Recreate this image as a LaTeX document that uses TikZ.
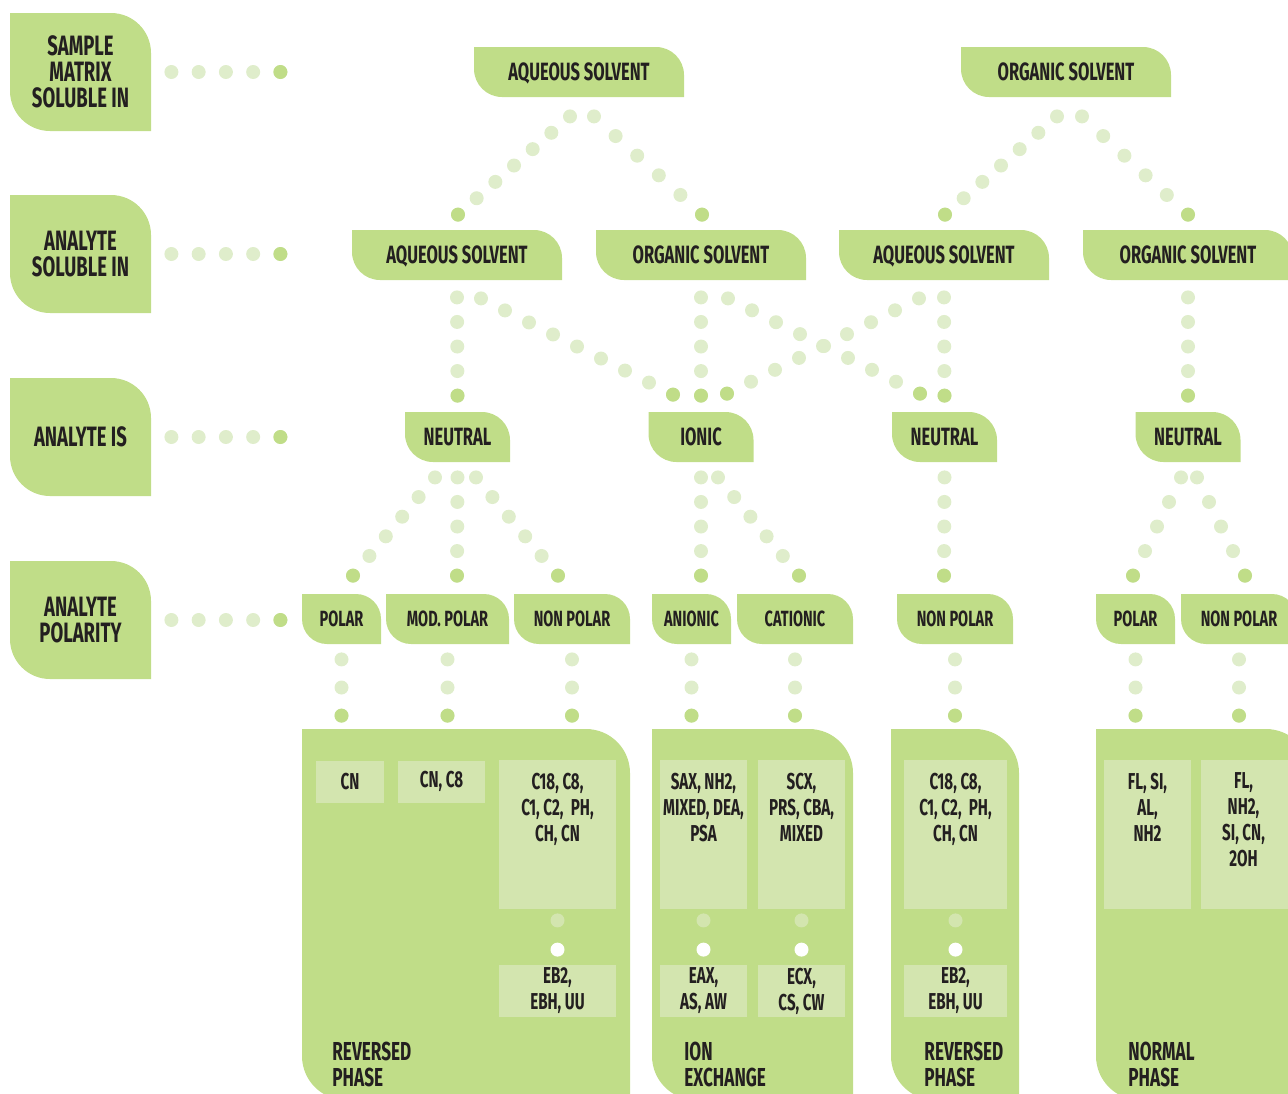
\documentclass[tikz,border=0pt]{standalone}
\usepackage{fontspec}
\setmainfont{Fira Sans}[FakeStretch=0.66]
\usetikzlibrary{calc}

\definecolor{leafgreen}{HTML}{C0DD88}
\definecolor{palegreen}{HTML}{DFEDCB}
\definecolor{boxgreen}{HTML}{D3E5AF}
\definecolor{ink}{HTML}{231F20}

% row of dots between two points, the last one full green
\newcommand\dotchain[3]{%
  \coordinate (dc-a) at #1;
  \coordinate (dc-b) at #2;
  \foreach \k in {0,...,#3}
    \fill[palegreen] ($(dc-a)!\k/#3!(dc-b)$) circle[radius=3.5pt];
  \fill[leafgreen] (dc-b) circle[radius=3.5pt];}

\tikzset{
  leaf/.style={inner sep=0pt, align=center, text=ink,
    path picture={\fill[leafgreen] (path picture bounding box.north west)
      -- ([xshift=-#1]path picture bounding box.north east)
      arc[start angle=90,end angle=0,radius=#1]
      -- (path picture bounding box.south east)
      -- ([xshift=#1]path picture bounding box.south west)
      arc[start angle=270,end angle=180,radius=#1] -- cycle;}},
  side/.style={leaf=20pt, minimum width=70.5pt, minimum height=59pt,
    font=\bfseries\fontsize{14}{13}\selectfont},
  solvent/.style={leaf=14pt, minimum width=105pt, minimum height=25pt,
    text depth=0pt, font=\bfseries\fontsize{12.5}{13}\selectfont},
  kind/.style={leaf=14pt, minimum width=52.5pt, minimum height=25pt,
    font=\bfseries\fontsize{12.5}{13}\selectfont},
  polarity/.style={leaf=12.5pt, minimum height=25pt,
    font=\bfseries\fontsize{11}{12}\selectfont},
  panel/.style={leaf=22pt, minimum height=185.5pt},
  cell/.style={fill=boxgreen, inner sep=0pt, text=ink, align=center,
    font=\bfseries\fontsize{11.5}{13}\selectfont},
  celltext/.style={inner sep=0pt, text=ink, align=center, anchor=north,
    font=\bfseries\fontsize{11.5}{13}\selectfont},
  phase/.style={inner sep=0pt, text=ink, align=left, anchor=north west,
    font=\bfseries\fontsize{13}{13}\selectfont},
}

\begin{document}
\begin{tikzpicture}[x=0.5pt,y=0.5pt]
\useasboundingbox (0,0) rectangle (1288,-1093);
\clip (0,0) rectangle (1288,-1093);

% questions on the left
\node[side] (sample) at (80.5,-72) {SAMPLE\\MATRIX\\SOLUBLE IN};
\node[side] (solub) at (80.5,-254) {ANALYTE\\SOLUBLE IN};
\node[side] (state) at (80.5,-437) {ANALYTE IS};
\node[side] (polar) at (80.5,-620) {ANALYTE\\POLARITY};
\foreach \s in {sample,solub,state,polar}{
  \dotchain{([xshift=10pt]\s.east)}{([xshift=64.5pt]\s.east)}{4}
}

% solvents
\node[solvent] (aq0) at (579,-72) {AQUEOUS SOLVENT};
\node[solvent] (org0) at (1066,-72) {ORGANIC SOLVENT};
\node[solvent] (aq1) at (457,-255) {AQUEOUS SOLVENT};
\node[solvent] (org1) at (701,-255) {ORGANIC SOLVENT};
\node[solvent] (aq2) at (944,-255) {AQUEOUS SOLVENT};
\node[solvent] (org2) at (1188,-255) {ORGANIC SOLVENT};

% analyte type
\node[kind] (neu1) at (457.5,-437) {NEUTRAL};
\node[kind] (ion) at (701,-437) {IONIC};
\node[kind] (neu2) at (944.5,-437) {NEUTRAL};
\node[kind] (neu3) at (1188,-437) {NEUTRAL};

% polarity
\node[polarity, minimum width=39.5pt] (pol1) at (341.5,-619) {POLAR};
\node[polarity, minimum width=61.5pt] (mod) at (447.5,-619) {MOD. POLAR};
\node[polarity, minimum width=58pt] (np1) at (572,-619) {NON POLAR};
\node[polarity, minimum width=39.5pt] (ani) at (691.5,-619) {ANIONIC};
\node[polarity, minimum width=58pt] (cat) at (795,-619) {CATIONIC};
\node[polarity, minimum width=58pt] (np2) at (955,-619) {NON POLAR};
\node[polarity, minimum width=39.5pt] (pol2) at (1135.5,-619) {POLAR};
\node[polarity, minimum width=58pt] (np3) at (1239,-619) {NON POLAR};

% sorbent panels
\node[panel, minimum width=164pt] (rp1) at (466,-914.5) {};
\node[panel, minimum width=100.5pt] (ionx) at (752.5,-914.5) {};
\node[panel, minimum width=64pt] (rp2) at (955,-914.5) {};
\node[panel, minimum width=107pt] (norm) at (1203,-914.5) {};

\node[cell, minimum width=34pt, minimum height=21pt] (cn) at (350,-781.5) {CN};
\node[cell, minimum width=43.5pt, minimum height=21pt] (cnc8) at (441.5,-781.5) {CN, C8};
\node[cell, minimum width=58.5pt, minimum height=74.5pt] (c18a) at (557.5,-834.5) {};
\node[cell, minimum width=58.5pt, minimum height=26pt] (eb2a) at (557.5,-991) {EB2,\\EBH, UU};
\node[cell, minimum width=43.5pt, minimum height=74.5pt] (sax) at (703.5,-834.5) {};
\node[cell, minimum width=43.5pt, minimum height=74.5pt] (scx) at (801.5,-834.5) {};
\node[cell, minimum width=43.5pt, minimum height=26pt] (eax) at (703.5,-991) {EAX,\\AS, AW};
\node[cell, minimum width=43.5pt, minimum height=26pt] (ecx) at (801.5,-991) {ECX,\\CS, CW};
\node[cell, minimum width=51.5pt, minimum height=74.5pt] (c18b) at (955.5,-834.5) {};
\node[cell, minimum width=51.5pt, minimum height=26pt] (eb2b) at (955.5,-991) {EB2,\\EBH, UU};
\node[cell, minimum width=43.5pt, minimum height=74.5pt] (fls) at (1147.5,-834.5) {};
\node[cell, minimum width=44.5pt, minimum height=74.5pt] (fln) at (1245.5,-834.5) {};

\node[celltext] (c18at) at ([yshift=-6.5pt]c18a.north) {C18, C8,\\C1, C2, \ PH,\\CH, CN};
\node[celltext] (saxt) at ([yshift=-6.5pt]sax.north) {SAX, NH2,\\MIXED, DEA,\\PSA};
\node[celltext] (scxt) at ([yshift=-6.5pt]scx.north) {SCX,\\PRS, CBA,\\MIXED};
\node[celltext] (c18bt) at ([yshift=-6.5pt]c18b.north) {C18, C8,\\C1, C2, \ PH,\\CH, CN};
\node[celltext] (flst) at ([yshift=-6.5pt]fls.north) {FL, SI,\\AL,\\NH2};
\node[celltext] (flnt) at ([xshift=-1pt,yshift=-6.5pt]fln.north) {FL,\\NH2,\\SI, CN,\\2OH};

% the two dots between a cell and its end-capped version
\foreach \a/\b in {c18a/eb2a, sax/eax, scx/ecx, c18b/eb2b} {
  \fill[boxgreen] ([yshift=-5.5pt]\a.south) circle[radius=3.5pt];
  \fill[white] ([yshift=7.5pt]\b.north) circle[radius=3.5pt];
}

\node[phase] (rp1t) at (332,-1042) {REVERSED\\PHASE};
\node[phase] (ionxt) at (684,-1042) {ION\\EXCHANGE};
\node[phase] (rp2t) at (924,-1042) {REVERSED\\PHASE};
\node[phase] (normt) at (1128,-1042) {NORMAL\\PHASE};

% matrix -> analyte solubility
\dotchain{([xshift=-4.5pt,yshift=-9.5pt]aq0.south)}{([xshift=0.5pt,yshift=7.5pt]aq1.north)}{6}
\dotchain{([xshift=7.5pt,yshift=-9.5pt]aq0.south)}{([xshift=0.5pt,yshift=7.5pt]org1.north)}{5}
\dotchain{([xshift=-4.5pt,yshift=-9.5pt]org0.south)}{([xshift=0.5pt,yshift=7.5pt]aq2.north)}{6}
\dotchain{([xshift=8pt,yshift=-9.5pt]org0.south)}{([yshift=7.5pt]org2.north)}{5}

% solubility -> neutral / ionic
\dotchain{([yshift=-8.5pt]aq1.south)}{([yshift=8pt]neu1.north)}{4}
\dotchain{([xshift=12pt,yshift=-9pt]aq1.south)}{([xshift=-14pt,yshift=8.5pt]ion.north)}{8}
\dotchain{([yshift=-8.5pt]org1.south)}{([yshift=8pt]ion.north)}{4}
\dotchain{([xshift=13.5pt,yshift=-9pt]org1.south)}{([xshift=-12.25pt,yshift=9pt]neu2.north)}{8}
\dotchain{([yshift=-8.5pt]aq2.south)}{([yshift=8pt]neu2.north)}{4}
\dotchain{([xshift=-12.5pt,yshift=-9pt]aq2.south)}{([xshift=13pt,yshift=9pt]ion.north)}{8}
\dotchain{([yshift=-8.5pt]org2.south)}{([yshift=8pt]neu3.north)}{4}

% type -> polarity
\dotchain{([xshift=-11.25pt,yshift=-7.5pt]neu1.south)}{([xshift=5.75pt,yshift=9pt]pol1.north)}{5}
\dotchain{([yshift=-7.5pt]neu1.south)}{([xshift=4.75pt,yshift=9pt]mod.north)}{4}
\dotchain{([xshift=9.25pt,yshift=-7.5pt]neu1.south)}{([xshift=-7pt,yshift=9pt]np1.north)}{5}
\dotchain{([yshift=-7.5pt]ion.south)}{([xshift=4.75pt,yshift=9pt]ani.north)}{4}
\dotchain{([xshift=8.5pt,yshift=-7.5pt]ion.south)}{([xshift=2pt,yshift=9pt]cat.north)}{5}
\dotchain{([yshift=-7.5pt]neu2.south)}{([xshift=-5.5pt,yshift=9pt]np2.north)}{4}
\dotchain{([xshift=-3.5pt,yshift=-7.5pt]neu3.south)}{([xshift=-1.25pt,yshift=9pt]pol2.north)}{4}
\dotchain{([xshift=4.5pt,yshift=-7.5pt]neu3.south)}{([xshift=3pt,yshift=9pt]np3.north)}{4}

% polarity -> sorbents
\foreach \p/\q in {pol1/rp1, mod/rp1, np1/rp1, ani/ionx, cat/ionx, np2/rp2, pol2/norm, np3/norm}{
  \dotchain{([yshift=-7.5pt]\p.south)}{($(\p.south |- \q.north)+(0pt,6.5pt)$)}{2}
}

\end{tikzpicture}
\end{document}
